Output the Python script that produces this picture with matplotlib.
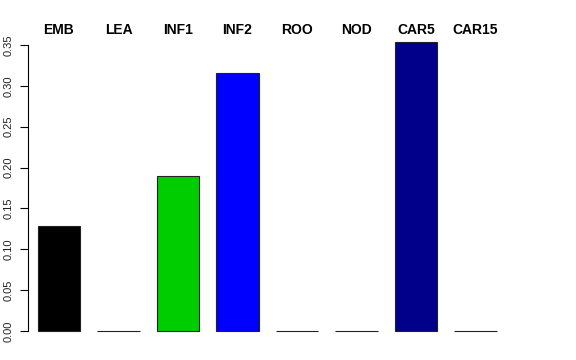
import matplotlib
matplotlib.use("Agg")
import matplotlib.pyplot as plt
from matplotlib.transforms import blended_transform_factory

categories = ["EMB", "LEA", "INF1", "INF2", "ROO", "NOD", "CAR5", "CAR15"]
values = [0.128, 0.0, 0.189, 0.316, 0.0, 0.0, 0.353, 0.0]
colors = ["#000000", "#FF0000", "#00CD00", "#0000FF", "#00FFFF", "#FF00FF", "#00008B", "#FFFF00"]
yticks = [0.00, 0.05, 0.10, 0.15, 0.20, 0.25, 0.30, 0.35]

plt.rcParams['font.family'] = ['Liberation Sans', 'DejaVu Sans']

W, H = 576, 360
fig = plt.figure(figsize=(W / 100, H / 100), dpi=100)
left_px, right_px, top_px, bot_px = 28, 513, 31, 342.5
ax = fig.add_axes([left_px / W, 1 - bot_px / H, (right_px - left_px) / W, (bot_px - top_px) / H])

x = list(range(len(categories)))
ax.bar(x, values, width=0.706, color=colors, edgecolor="#222222", linewidth=0.8)

ax.set_xlim(-0.521, (right_px - 59) / 59.5)
ax.set_ylim(-0.0141, 0.367)

for s in ["top", "right", "bottom"]:
    ax.spines[s].set_visible(False)
ax.spines["left"].set_bounds(0, 0.35)
ax.spines["left"].set_linewidth(0.8)
ax.set_xticks([])
ax.set_yticks(yticks)
ax.set_yticklabels([f"{t:.2f}" for t in yticks], rotation=90, va="center", fontsize=8, color="#222222")
ax.tick_params(axis="y", length=6, width=0.8, pad=4)

trans = blended_transform_factory(ax.transData, ax.transAxes)
for xi, c in zip(x, categories):
    ax.text(xi, 0.99, c, transform=trans, ha="center", va="baseline",
            fontsize=10, fontweight="bold")

fig.savefig("out.png", dpi=100)
